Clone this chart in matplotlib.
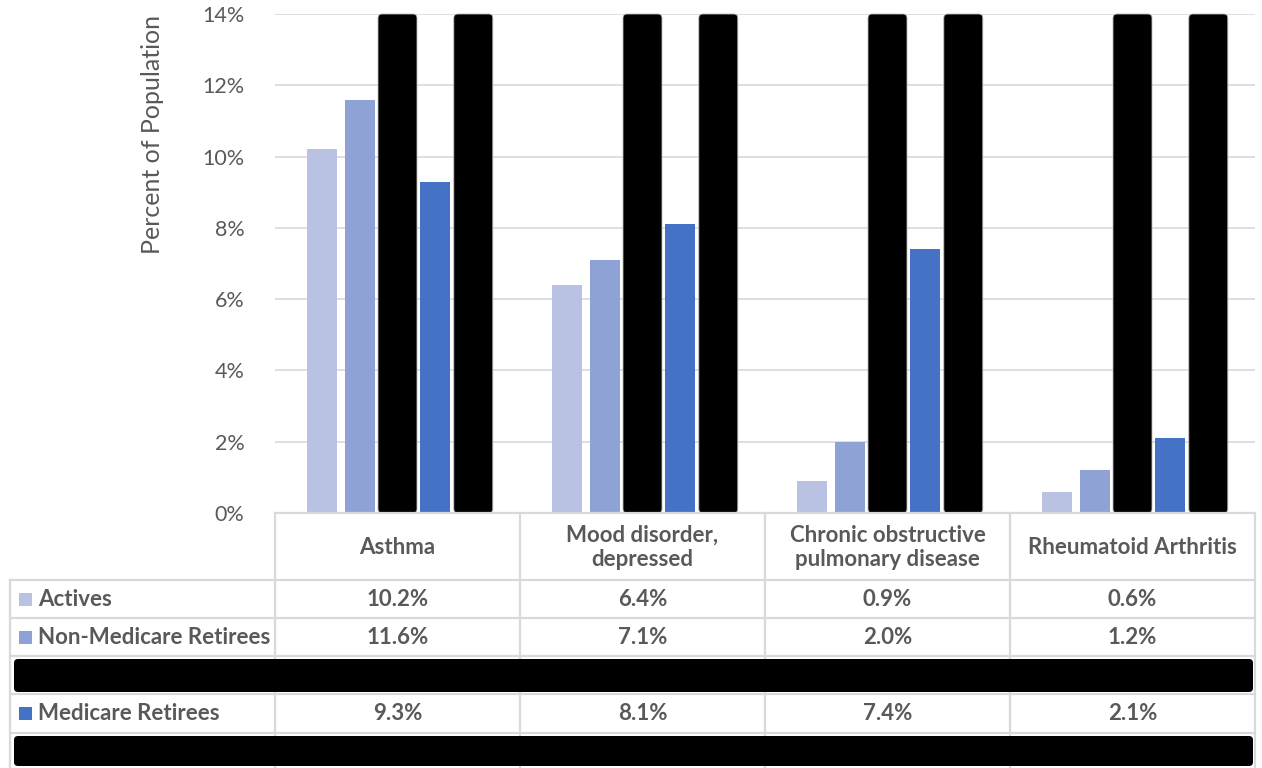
import matplotlib
matplotlib.use("Agg")
import matplotlib.pyplot as plt
from matplotlib.patches import FancyBboxPatch, Rectangle
import numpy as np

plt.rcParams['font.family'] = ['Lato', 'DejaVu Sans']

# ---- data -------------------------------------------------------------
categories = ["Asthma", "Mood disorder,\ndepressed",
              "Chronic obstructive\npulmonary disease", "Rheumatoid Arthritis"]
series_names = ["Actives", "Non-Medicare Retirees", None, "Medicare Retirees", None]
actives = [10.2, 6.4, 0.9, 0.6]
non_medicare = [11.6, 7.1, 2.0, 1.2]
medicare = [9.3, 8.1, 7.4, 2.1]
yticks = [0, 2, 4, 6, 8, 10, 12, 14]

colors = {"Actives": "#B9C2E2", "Non-Medicare Retirees": "#8FA2D5",
          "Medicare Retirees": "#4472C4"}
values = {"Actives": actives, "Non-Medicare Retirees": non_medicare,
          "Medicare Retirees": medicare}

TEXT = "#595959"
GRID = "#D9D9D9"

# ---- layout (pixels) ---------------------------------------------------
W, H = 1262, 768
plot_l, plot_r, plot_t, plot_b = 275, 1255, 14, 513
label_l = 10
row_edges = [513, 580, 618, 656, 694, 733, 768]

fig = plt.figure(figsize=(W / 100, H / 100), dpi=100)
ax = fig.add_axes([plot_l / W, 1 - plot_b / H, (plot_r - plot_l) / W,
                   (plot_b - plot_t) / H])

n_cat = len(categories)
x = np.arange(n_cat)
slot = 0.1547
bar_w = 0.1224
ymax = yticks[-1]

ax.set_xlim(-0.5, n_cat - 0.5)
ax.set_ylim(0, ymax)

for i, name in enumerate(series_names):
    offs = (i - 2) * slot
    if name is not None:
        ax.bar(x + offs, values[name], width=bar_w, color=colors[name], zorder=2)
    else:
        # redacted series: solid rounded black blocks
        px_x = (n_cat) / (plot_r - plot_l)
        px_y = ymax / (plot_b - plot_t)
        w = 39 * px_x
        for xi in x:
            box = FancyBboxPatch((xi + offs - w / 2, 0), w, ymax,
                                 boxstyle=f"round,pad=0,rounding_size={4 * px_x}",
                                 mutation_aspect=px_y / px_x,
                                 fc="black", ec="#BBBBBB", lw=0.6,
                                 zorder=3, clip_on=False)
            ax.add_patch(box)

ax.set_yticks(yticks)
ax.set_yticklabels([f"{t}%" for t in yticks], color=TEXT, fontsize=15.5)
ax.tick_params(axis='y', length=0, pad=22)
ax.set_xticks([])
ax.grid(axis='y', color=GRID, lw=1.2, zorder=0)
for s in ax.spines.values():
    s.set_visible(False)

fig.text(152 / W, 1 - 135 / H, "Percent of Population", rotation=90,
         ha='center', va='center', color=TEXT, fontsize=18)

# ---- data table --------------------------------------------------------
ov = fig.add_axes([0, 0, 1, 1], zorder=5)
ov.set_xlim(0, W)
ov.set_ylim(H, 0)
ov.axis('off')

col_w = (plot_r - plot_l) / n_cat
col_edges = [plot_l + k * col_w for k in range(n_cat + 1)]
lw = 1.6
fs = 16

# horizontal rules
ov.plot([plot_l, plot_r], [row_edges[0]] * 2, color=GRID, lw=lw, zorder=1)
for y in row_edges[1:-1]:
    ov.plot([label_l, plot_r], [y, y], color=GRID, lw=lw, zorder=1)
# vertical rules
ov.plot([label_l, label_l], [row_edges[1], H], color=GRID, lw=lw, zorder=1)
for xe in col_edges:
    ov.plot([xe, xe], [row_edges[0], H], color=GRID, lw=lw, zorder=1)

# header row
for k, cat in enumerate(categories):
    cx = (col_edges[k] + col_edges[k + 1]) / 2
    cy = (row_edges[0] + row_edges[1]) / 2
    ov.text(cx, cy + 1, cat, ha='center', va='center', fontsize=fs,
            fontweight='bold', color=TEXT, linespacing=1.2)

# series rows
for r, name in enumerate(series_names):
    y0, y1 = row_edges[r + 1], row_edges[r + 2]
    cy = (y0 + y1) / 2
    if name is None:
        ov.add_patch(FancyBboxPatch((14, y0 + 3), 1239, (y1 - y0) - 5,
                                    boxstyle="round,pad=0,rounding_size=4",
                                    fc="black", ec="none", zorder=6))
        continue
    ov.add_patch(Rectangle((19, cy - 6.5), 13, 13, fc=colors[name], ec="none"))
    ov.text(38, cy, name, ha='left', va='center', fontsize=fs,
            fontweight='bold', color=TEXT)
    for k, v in enumerate(values[name]):
        cx = (col_edges[k] + col_edges[k + 1]) / 2
        ov.text(cx, cy, f"{v:.1f}%", ha='center', va='center', fontsize=fs,
                fontweight='bold', color=TEXT)

fig.savefig("out.png", dpi=100, facecolor="white")
